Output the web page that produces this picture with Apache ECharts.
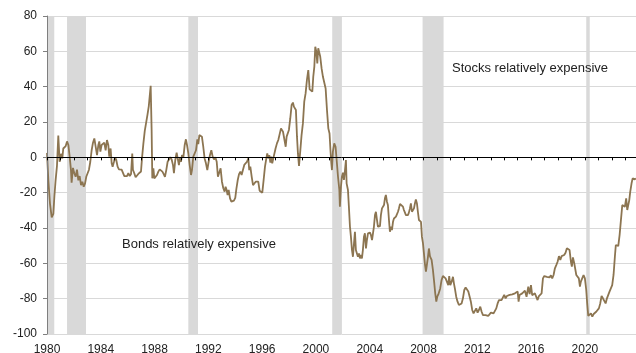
<!DOCTYPE html>
<html>
<head>
<meta charset="utf-8">
<script src="https://cdn.jsdelivr.net/npm/echarts@6/dist/echarts.min.js"></script>
<style>
  html, body { margin: 0; padding: 0; background: #fff; }
  #chart { width: 636px; height: 353px; }
</style>
</head>
<body>
<div id="chart"></div>
<script>
// Relative valuation gauge: stocks vs bonds, monthly readings (decimal years)
const dates = [
  1980.00,1980.10,1980.22,1980.35,1980.47,1980.55,1980.64,1980.74,1980.84,1980.94,
  1981.04,1981.14,1981.21,1981.29,1981.39,1981.49,1981.59,1981.69,1981.78,1981.83,1981.93,
  1982.03,1982.13,1982.23,1982.33,1982.43,1982.53,1982.63,1982.73,1982.83,1982.92,
  1983.02,1983.12,1983.22,1983.32,1983.42,1983.52,1983.62,1983.72,1983.82,1983.89,1983.97,
  1984.06,1984.16,1984.26,1984.36,1984.46,1984.56,1984.63,1984.73,1984.81,1984.88,1984.98,
  1985.06,1985.15,1985.25,1985.35,1985.45,1985.55,1985.65,1985.75,1985.85,1985.95,
  1986.05,1986.15,1986.25,1986.34,1986.39,1986.49,1986.59,1986.69,1986.79,1986.89,1986.99,
  1987.07,1987.17,1987.27,1987.37,1987.47,1987.57,1987.71,1987.78,1987.83,1987.91,1987.98,
  1988.08,1988.18,1988.28,1988.38,1988.48,1988.58,1988.67,1988.77,1988.87,1988.97,
  1989.07,1989.17,1989.27,1989.37,1989.44,1989.54,1989.64,1989.74,1989.81,1989.89,1989.96,
  1990.04,1990.14,1990.24,1990.33,1990.41,1990.51,1990.61,1990.71,1990.78,1990.88,1990.98,
  1991.08,1991.18,1991.25,1991.33,1991.42,1991.52,1991.62,1991.72,1991.82,1991.92,
  1992.02,1992.12,1992.22,1992.32,1992.42,1992.52,1992.62,1992.71,1992.81,1992.91,
  1993.01,1993.11,1993.21,1993.28,1993.36,1993.43,1993.51,1993.61,1993.71,1993.80,1993.90,
  1994.00,1994.08,1994.18,1994.28,1994.38,1994.47,1994.57,1994.67,1994.77,1994.87,1994.97,
  1995.04,1995.12,1995.22,1995.32,1995.41,1995.52,1995.61,1995.71,1995.81,1995.91,
  1996.01,1996.11,1996.21,1996.31,1996.38,1996.46,1996.53,1996.61,1996.68,1996.75,1996.83,1996.90,
  1997.00,1997.10,1997.20,1997.30,1997.40,1997.47,1997.55,1997.65,1997.75,1997.82,1997.89,1997.99,
  1998.09,1998.19,1998.29,1998.36,1998.44,1998.51,1998.59,1998.66,1998.74,1998.84,1998.93,
  1999.03,1999.13,1999.23,1999.33,1999.43,1999.53,1999.63,1999.73,1999.80,1999.88,1999.95,
  2000.03,2000.10,2000.17,2000.25,2000.32,2000.42,2000.52,2000.62,2000.72,2000.82,2000.92,
  2001.01,2001.08,2001.14,2001.19,2001.26,2001.36,2001.46,2001.54,2001.64,2001.74,2001.78,2001.86,2001.93,
  2002.01,2002.08,2002.16,2002.23,2002.28,2002.38,2002.45,2002.53,2002.60,2002.68,2002.75,2002.83,2002.90,2002.97,
  2003.05,2003.12,2003.20,2003.27,2003.35,2003.42,2003.49,2003.57,2003.64,2003.72,2003.79,2003.87,2003.94,
  2004.02,2004.09,2004.17,2004.24,2004.31,2004.39,2004.46,2004.54,2004.61,2004.69,2004.76,2004.83,2004.91,2004.98,
  2005.06,2005.13,2005.20,2005.28,2005.35,2005.43,2005.50,2005.58,2005.65,2005.73,2005.80,2005.87,2005.95,
  2006.02,2006.10,2006.17,2006.25,2006.32,2006.39,2006.47,2006.54,2006.62,2006.69,2006.77,2006.84,2006.91,2006.99,
  2007.06,2007.14,2007.21,2007.29,2007.36,2007.43,2007.51,2007.58,2007.66,2007.73,2007.81,2007.88,2007.96,
  2008.03,2008.10,2008.18,2008.25,2008.33,2008.40,2008.48,2008.60,2008.70,2008.80,2008.87,2008.95,
  2009.02,2009.10,2009.17,2009.24,2009.34,2009.44,2009.54,2009.64,2009.74,2009.84,2009.91,2009.99,
  2010.09,2010.19,2010.26,2010.33,2010.43,2010.53,2010.63,2010.73,2010.83,2010.93,
  2011.03,2011.13,2011.23,2011.33,2011.43,2011.52,2011.62,2011.72,2011.82,2011.92,
  2012.02,2012.12,2012.22,2012.32,2012.42,2012.52,2012.61,2012.71,2012.81,2012.91,
  2013.01,2013.11,2013.21,2013.31,2013.41,2013.51,2013.61,2013.71,2013.80,2013.90,
  2014.00,2014.10,2014.20,2014.30,2014.40,2014.50,2014.60,2014.70,2014.80,2014.90,
  2015.00,2015.07,2015.14,2015.24,2015.34,2015.44,2015.54,2015.66,2015.79,2015.89,2015.99,
  2016.08,2016.18,2016.28,2016.38,2016.48,2016.58,2016.68,2016.78,2016.88,2016.98,
  2017.08,2017.17,2017.27,2017.37,2017.47,2017.57,2017.67,2017.77,2017.87,2017.97,
  2018.07,2018.17,2018.27,2018.36,2018.46,2018.56,2018.66,2018.76,2018.86,2018.96,
  2019.03,2019.11,2019.21,2019.28,2019.36,2019.46,2019.55,2019.63,2019.70,2019.80,2019.90,
  2020.00,2020.10,2020.17,2020.25,2020.35,2020.45,2020.55,2020.65,2020.75,2020.84,2020.94,
  2021.04,2021.14,2021.24,2021.34,2021.44,2021.54,2021.64,2021.73,2021.83,2021.93,
  2022.03,2022.13,2022.23,2022.30,2022.38,2022.48,2022.58,2022.68,2022.78,2022.88,2022.97,
  2023.07,2023.15,2023.22,2023.30,2023.37,2023.47,2023.55,2023.62,2023.70,2023.79
];

const gauge = [
  2.5,-13,-26,-34,-32,-22,-13,-5,12.4,-2.5,
  2,-0.6,5,4,6.4,9,7,0,-7,-14.4,-6,
  -9,-11,-7,-13,-10.6,-15.7,-13.8,-16.6,-14.7,-11,
  -12,-7,-2.5,4,8.3,10.7,9.8,1.3,7,9,3.2,
  7,6.4,8.3,4,9.8,7,0.4,5,-3.4,-5.3,-2.5,
  0,-1.5,-5.3,-6.8,-5.7,-7,-6.4,-10.6,-10,-10.6,
  -9,-10.6,-9.4,2.2,-7,-9,-11.3,-11,-9.4,-9,-8,
  0,8,15,19.5,24,29,40.5,15.5,-11.9,-6.2,-11.9,
  -11,-10,-8.1,-6.8,-6.4,-8.1,-9.4,-11,-7.2,-2.5,
  -1.2,0,-1.2,-4.4,-9,-1.5,2.6,2.6,-4.4,0,-2.5,
  1.3,0,7,10.2,7,2.2,-4.4,-10,-7.2,0.4,1.3,
  4,10.2,7.5,12.6,13.5,11.7,6,-0.6,-3.4,-7.2,
  -2.5,1.3,4,0.4,-1.2,0,-2.5,-11,-11.9,-6.2,
  -13.8,-17.5,-19.4,-16.6,-18.5,-21.3,-18.5,-23.2,-25.1,-26,-24.5,
  -23,-18,-13,-9.5,-8.1,-10,-7.2,-4.3,-3.4,-2.5,-0.6,
  -7.2,-5.3,-10.9,-15.7,-14.7,-13.8,-14.7,-13.8,-18.9,-20,
  -20,-12.8,-5.3,-0.6,2.2,-0.6,1.3,-3,0.4,-3.4,-0.6,0.4,
  5.1,7.9,9.8,10.7,16.4,15.5,14.5,15.5,6,11.7,11.3,15.5,
  22,29.6,31,28.7,29.6,26.8,11.7,2.2,-4.9,4.1,12.6,
  19.2,31.5,36.2,43.8,49.4,38.5,38.1,37.2,45.6,51.3,62.6,
  59.8,53.2,61.7,60.7,56.9,50.3,45.6,46.6,39,26.8,16.4,
  13.5,4,-3,-7.2,3.2,7.9,6,-1.5,-11,-18.5,-28,-16.6,-11,
  -8.7,-12.8,-7.2,-1.5,-14.7,-18.5,-28,-39.3,-44.9,-52.5,-56.3,-48.7,-42.1,-52.5,
  -53.4,-56.3,-54.4,-57.2,-55.3,-57.2,-52.5,-44.9,-43,-51.5,-46.8,-43,-42.1,
  -42.6,-44,-46.8,-47.8,-39.3,-32.7,-30.8,-35.5,-39.3,-39.6,-38.9,-32.7,-28.9,-28.9,
  -27,-23.2,-21.3,-25.1,-27,-35.5,-42.1,-39.3,-41.2,-36.5,-34.6,-35.1,-33.6,
  -32.7,-30.8,-28.9,-26.4,-26.1,-27,-27.9,-29.8,-31.3,-32.7,-32.1,-32.7,-31.3,-28.9,
  -26.1,-30.8,-29.8,-28.9,-26.1,-23.8,-26.1,-30.8,-35.5,-36.5,-36.5,-44.9,-48.7,
  -54.4,-60.1,-64.7,-65.7,-56.3,-51.6,-56,-58.1,-63.8,-71.3,-77,-81.7,
  -78.9,-77.6,-78.5,-74.2,-69.5,-67.2,-67.6,-68.5,-69.5,-72.3,-67.2,-72.3,
  -70.4,-67.6,-71.3,-74.2,-78.9,-81.7,-83.6,-83,-82.7,-79.8,
  -75.1,-73.6,-73.2,-76,-78.9,-81.7,-86.4,-88.3,-87.4,-85.5,
  -87.9,-86.4,-84.5,-87.4,-89.3,-90.2,-89.3,-90.2,-89.8,-89.3,
  -87.9,-88.7,-88.3,-88.7,-85.5,-82.7,-80.8,-81.7,-80.8,-79.8,
  -77.9,-79.8,-78.5,-78.9,-77.9,-78.5,-77.6,-78.1,-77,-77.9,
  -76,-81.7,-77.9,-78.5,-77,-76,-75.5,-78.9,-73.2,-77.4,-72.3,
  -78,-78.9,-77,-76,-80.8,-78.5,-77.4,-77,-68.5,-67.2,
  -66.6,-67.6,-67.2,-68,-66.8,-68.5,-66.6,-62.8,-61,-59.1,
  -55.9,-58.1,-55.9,-56.6,-55.3,-54,-51.5,-50.6,-52.5,-59.1,
  -61.9,-56.6,-60,-59.1,-66.6,-65.7,-68.5,-73.2,-70.4,-68.5,-66.6,
  -68.5,-75.1,-82.7,-89.8,-89.3,-88.3,-90.2,-88.7,-88.3,-87.4,-86.8,
  -85.5,-82.7,-78.5,-79.8,-80.8,-82.7,-79.8,-78.9,-76,-76,
  -72.3,-66.6,-56.2,-49.6,-50.6,-50.2,-44,-35.5,-27,-26.1,-28,
  -23.2,-29.8,-30.8,-24.2,-19.5,-14.7,-11.9,-12.8,-12.5,-11.9
];

// US recession periods [start, end] in decimal years
const recessions = [
  [1980.00, 1980.54],
  [1981.49, 1982.90],
  [1990.51, 1991.23],
  [2001.21, 2001.93],
  [2007.93, 2009.49],
  [2020.10, 2020.36]
];

const yearLabels = [1980, 1984, 1988, 1992, 1996, 2000, 2004, 2008, 2012, 2016, 2020];

const annotations = [
  { text: 'Stocks relatively expensive', left: 452, top: 62 },
  { text: 'Bonds relatively expensive', left: 122, top: 238 }
];

const FONT = "'Liberation Sans', Arial, sans-serif";
const xMin = 1980, xMax = 2023.8;

const chart = echarts.init(document.getElementById('chart'), null, { renderer: 'canvas' });

chart.setOption({
  animation: false,
  backgroundColor: '#ffffff',
  grid: { left: 47, right: 0, top: 16, bottom: 19, containLabel: false, outerBoundsMode: 'none' },
  xAxis: [
    {
      type: 'value', min: xMin, max: xMax, interval: 4, position: 'bottom',
      axisLine: { show: false, onZero: false },
      axisTick: { show: false },
      splitLine: { show: false },
      axisLabel: {
        margin: 10, color: '#222', fontSize: 12, fontFamily: FONT,
        formatter: v => (yearLabels.indexOf(v) >= 0 ? String(v) : '')
      }
    },
    {
      type: 'value', min: xMin, max: xMax, interval: 1, position: 'bottom', z: 5,
      axisLine: { show: true, onZero: true, lineStyle: { color: '#000', width: 1 } },
      axisTick: { show: true, inside: false, length: 3, lineStyle: { color: '#000' } },
      axisLabel: { show: false },
      splitLine: { show: false }
    }
  ],
  yAxis: [
    {
      type: 'value', min: -100, max: 80, interval: 20, position: 'left',
      axisLine: { show: false, onZero: false },
      axisTick: { show: false },
      axisLabel: { show: false },
      splitLine: { show: true, lineStyle: { color: '#d9d9d9', width: 1 } }
    },
    {
      type: 'value', min: -100, max: 80, interval: 20, position: 'left', z: 5,
      axisLine: { show: true, onZero: false, lineStyle: { color: '#7f7f7f', width: 1 } },
      axisTick: { show: true, length: 4, lineStyle: { color: '#7f7f7f' } },
      axisLabel: { margin: 10, color: '#222', fontSize: 12, fontFamily: FONT },
      splitLine: { show: false }
    }
  ],
  series: [
    {
      type: 'line',
      xAxisIndex: 0,
      yAxisIndex: 0,
      data: dates.map((d, i) => [d, gauge[i]]),
      showSymbol: false,
      symbol: 'none',
      lineStyle: { color: '#8c7551', width: 1.8 },
      z: 3,
      markArea: {
        silent: true,
        itemStyle: { color: '#d9d9d9' },
        data: recessions.map(r => [{ xAxis: r[0] }, { xAxis: r[1] }])
      }
    }
  ],
  graphic: annotations.map(a => ({
    type: 'text',
    left: a.left,
    top: a.top,
    z: 10,
    style: { text: a.text, fill: '#222', font: '13px ' + FONT }
  }))
});
</script>
</body>
</html>
